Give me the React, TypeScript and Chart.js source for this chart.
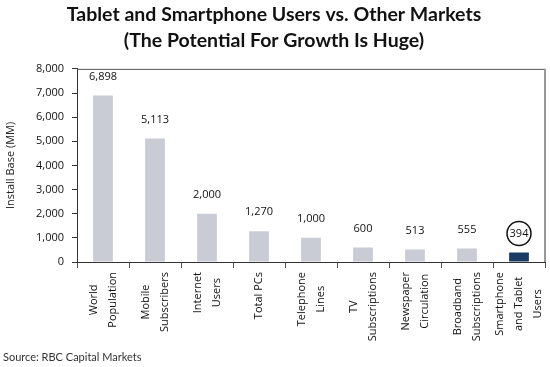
import React, { useEffect, useRef } from "react";
import { Chart, registerables } from "chart.js";

Chart.register(...registerables);

const titleLines = [
  "Tablet and Smartphone Users vs. Other Markets",
  "(The Potential For Growth Is Huge)",
];
const categories: string[][] = [
  ["World", "Population"],
  ["Mobile", "Subscribers"],
  ["Internet", "Users"],
  ["Total PCs"],
  ["Telephone", "Lines"],
  ["TV", "Subscriptions"],
  ["Newspaper", "Circulation"],
  ["Broadband", "Subscriptions"],
  ["Smartphone", "and Tablet", "Users"],
];
const installBase = [6898, 5113, 2000, 1270, 1000, 600, 513, 555, 394];
const highlightIndex = 8;
const yMin = 0;
const yMax = 8000;
const yStep = 1000;
const yAxisTitle = "Install Base (MM)";
const sourceNote = "Source: RBC Capital Markets";

const FONT = "'Open Sans', 'DejaVu Sans', sans-serif";
const fmt = (v: number) => v.toLocaleString("en-US");

const decorPlugin = {
  id: "decor",
  afterDraw(chart: any) {
    const { ctx, chartArea } = chart;
    const xs = chart.scales.x;
    const meta = chart.getDatasetMeta(0);
    ctx.save();
    // frame top and right
    ctx.strokeStyle = "#555";
    ctx.lineWidth = 1;
    ctx.beginPath();
    ctx.moveTo(chartArea.left, chartArea.top + 0.5);
    ctx.lineTo(chartArea.right, chartArea.top + 0.5);
    ctx.stroke();
    ctx.strokeStyle = "#999";
    ctx.lineWidth = 2;
    ctx.beginPath();
    ctx.moveTo(chartArea.right, chartArea.top);
    ctx.lineTo(chartArea.right, chartArea.bottom);
    ctx.stroke();

    // value labels
    ctx.font = `11px ${FONT}`;
    ctx.fillStyle = "#111";
    ctx.textAlign = "center";
    ctx.textBaseline = "middle";
    meta.data.forEach((bar: any, i: number) => {
      const cy = bar.y - 19;
      ctx.fillText(fmt(installBase[i]), bar.x, cy);
      if (i === highlightIndex) {
        ctx.strokeStyle = "#111";
        ctx.lineWidth = 1.5;
        ctx.beginPath();
        ctx.arc(bar.x, cy, 12, 0, Math.PI * 2);
        ctx.stroke();
      }
    });

    // category labels (rotated, centred block)
    ctx.font = `11px ${FONT}`;
    ctx.fillStyle = "#111";
    categories.forEach((lines, i) => {
      const x = xs.getPixelForValue(i);
      const maxW = Math.max(...lines.map((l) => ctx.measureText(l).width));
      const cy = chartArea.bottom + 10 + maxW / 2;
      lines.forEach((line, j) => {
        const off = (j - (lines.length - 1) / 2) * 19;
        ctx.save();
        ctx.translate(x + off, cy);
        ctx.rotate(-Math.PI / 2);
        ctx.textAlign = "center";
        ctx.textBaseline = "middle";
        ctx.fillText(line, 0, 0);
        ctx.restore();
      });
    });
    ctx.restore();
  },
};

export default function App() {
  const ref = useRef<HTMLCanvasElement | null>(null);
  useEffect(() => {
    if (!ref.current) return;
    const chart = new Chart(ref.current, {
      type: "bar",
      data: {
        labels: categories.map((c) => c.join(" ")),
        datasets: [
          {
            data: installBase,
            backgroundColor: installBase.map((_, i) =>
              i === highlightIndex ? "#1a3c64" : "#c9ccd4"
            ),
            barPercentage: 0.38,
            categoryPercentage: 1,
          },
        ],
      },
      options: {
        responsive: false,
        animation: false,
        layout: { padding: { left: 3, right: 5, top: 0, bottom: 0 } },
        plugins: {
          legend: { display: false },
          tooltip: { enabled: false },
          title: {
            display: true,
            text: titleLines,
            color: "#111",
            font: { family: "Lato, 'Open Sans', sans-serif", size: 19.5, weight: "bold", lineHeight: 1.33 },
            padding: { top: 2, bottom: 15 },
          },
          subtitle: {
            display: true,
            position: "bottom",
            align: "start",
            text: sourceNote,
            color: "#333",
            font: { family: "Lato, 'Open Sans', sans-serif", size: 11, lineHeight: 1.2 },
            padding: { top: 8.5, bottom: 3.3 },
          },
        },
        scales: {
          x: {
            grid: {
              drawOnChartArea: false,
              drawTicks: true,
              tickLength: 6,
              color: "#555",
              offset: true,
            },
            border: { color: "#333", width: 1 },
            ticks: { display: false },
            afterFit: (s: any) => {
              s.height = 80;
            },
          },
          y: {
            min: yMin,
            max: yMax,
            grid: { drawOnChartArea: false, tickLength: 5, color: "#333" },
            border: { color: "#333", width: 1 },
            ticks: {
              stepSize: yStep,
              padding: 8,
              color: "#111",
              font: { family: FONT, size: 11 },
              callback: (v: any) => fmt(Number(v)),
            },
            title: {
              display: true,
              text: yAxisTitle,
              color: "#222",
              font: { family: FONT, size: 11, lineHeight: 1.2 },
              padding: { top: 1, bottom: 0 },
            },
            afterFit: (s: any) => {
              s.width = 74;
            },
          },
        },
      },
      plugins: [decorPlugin],
    });
    return () => chart.destroy();
  }, []);
  return (
    <div style={{ position: "absolute", left: 0, top: 0, width: 550, height: 367, background: "#fff" }}>
      <canvas ref={ref} width={550} height={367} />
    </div>
  );
}
